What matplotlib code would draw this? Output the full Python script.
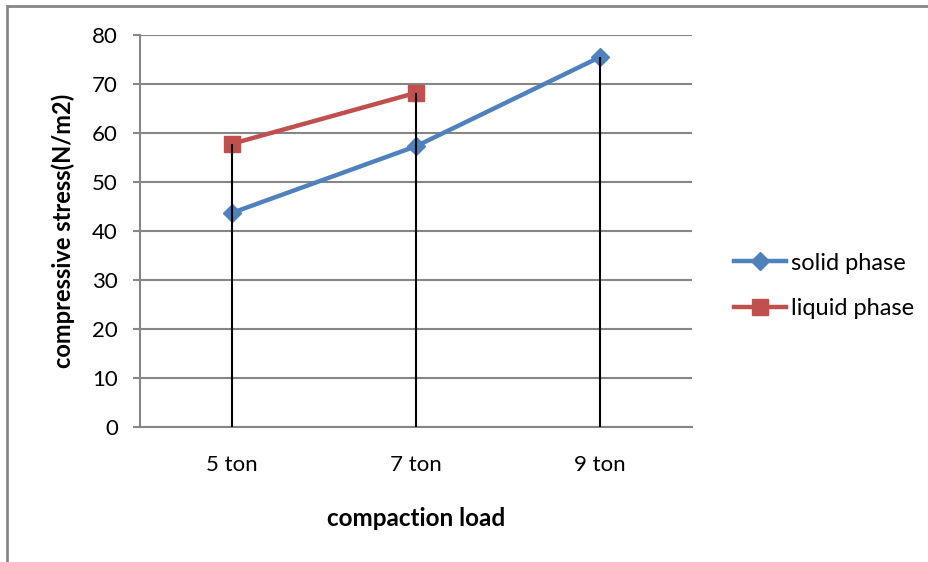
import matplotlib
matplotlib.use("Agg")
import matplotlib.pyplot as plt
from matplotlib.patches import Rectangle
import numpy as np

plt.rcParams['font.family'] = ['Lato', 'DejaVu Sans']

categories = ["5 ton", "7 ton", "9 ton"]
solid_phase = [43.7, 57.3, 75.5]
liquid_phase = [57.8, 68.2, np.nan]
y_ticks = [0, 10, 20, 30, 40, 50, 60, 70, 80]

blue = "#4F81BD"
red = "#C0504D"
grid_gray = "#868686"

W, H = 929, 562
fig = plt.figure(figsize=(W / 100, H / 100), dpi=100)
ax = fig.add_axes([140 / W, 1 - 427 / H, (692 - 140) / W, (427 - 35) / H])

x = np.arange(len(categories))

ax.plot(x, solid_phase, color=blue, lw=3.2, marker="D", ms=9,
        markeredgecolor=blue, label="solid phase", zorder=3)
ax.plot(x, liquid_phase, color=red, lw=3.2, marker="s", ms=11,
        markeredgecolor=red, label="liquid phase", zorder=3)

# drop lines from the highest point of each category to the axis
tops = np.nanmax(np.vstack([solid_phase, liquid_phase]), axis=0)
ax.vlines(x, 0, tops, color="black", lw=1.5, zorder=4)

ax.set_xlim(-0.5, len(categories) - 0.5)
ax.set_ylim(0, 80)
ax.set_yticks(y_ticks)
ax.set_xticks(x)
ax.set_xticklabels(categories)

ax.yaxis.grid(True, color=grid_gray, lw=1.5)
ax.set_axisbelow(True)
for s in ["top", "right"]:
    ax.spines[s].set_visible(False)
for s in ["left", "bottom"]:
    ax.spines[s].set_color(grid_gray)
    ax.spines[s].set_linewidth(1.5)

ax.tick_params(axis="y", length=5, width=1.5, color=grid_gray, pad=11,
               labelsize=16)
ax.tick_params(axis="x", length=0, pad=20, labelsize=16)

ax.set_ylabel("compressive stress(N/m2)", fontsize=17, fontweight="bold",
              labelpad=12)
ax.set_xlabel("compaction load", fontsize=17.5, fontweight="bold", labelpad=23)

fig.legend(loc="center left", bbox_to_anchor=(713 / W, 1 - 286 / H),
           frameon=False, fontsize=17, handlelength=2.2, handletextpad=0.2,
           labelspacing=1.05)

# chart frame: only its left and top edges fall inside the image
fig.add_artist(Rectangle((7 / W, -0.5), 2.0, 0.5 + (1 - 5.5 / H),
                         transform=fig.transFigure, fill=False,
                         edgecolor=grid_gray, lw=2))

fig.savefig("out.png", dpi=100)
